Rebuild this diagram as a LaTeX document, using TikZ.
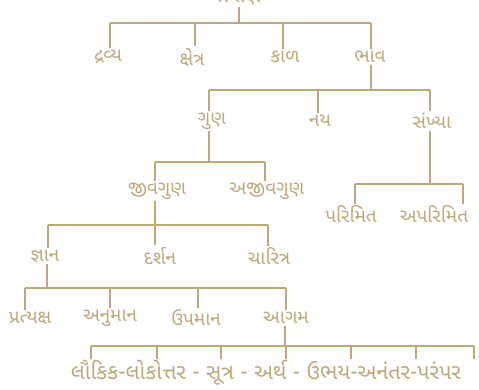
\documentclass[tikz,border=0pt]{standalone}
\usepackage{fontspec}
\newfontfamily\gujfont[Script=Gujarati]{Noto Sans Gujarati UI}
\usepackage{tikz}
\usetikzlibrary{positioning}
\usepackage{xcolor}
\definecolor{tan}{HTML}{BFA878}

\begin{document}
\begin{tikzpicture}[
    x = 1pt,
    y = -1pt,
    line width = 1.8pt,
    word/.style={text=tan, font=\gujfont\fontsize{19}{21}\selectfont, inner sep=1pt},
    tail/.style={word, font=\gujfont\fontsize{21.5}{23}\selectfont},
    link/.style={draw=tan}
]
    \useasboundingbox (0,0) rectangle (479,389);
    \clip (0,0) rectangle (479,389);

    % words
    \node[word] (pramana) at (239,-2) {પ્રમાણ};
    \node[word] (dravya)  at (108,57) {દ્રવ્ય};
    \node[word] (kshetra) at (192,57) {ક્ષેત્ર};
    \node[word] (kal)     at (285,57) {કાળ};
    \node[word] (bhav)    at (370,57) {ભાવ};
    \node[word] (gun)     at (212,121) {ગુણ};
    \node[word] (nay)     at (320,121) {નય};
    \node[word] (sankhya) at (432,121) {સંખ્યા};
    \node[word] (jivgun)  at (157,191) {જીવગુણ};
    \node[word] (ajivgun) at (267,191) {અજીવગુણ};
    \node[word] (parimit) at (351,214) {પરિમિત};
    \node[word] (aparimit) at (434,214) {અપરિમિત};
    \node[word] (jnan)    at (45,256) {જ્ઞાન};
    \node[word] (darshan) at (160,256) {દર્શન};
    \node[word] (charitra) at (269,256) {ચારિત્ર};
    \node[word] (pratyaksh) at (30,318) {પ્રત્યક્ષ};
    \node[word] (anuman)  at (110,318) {અનુમાન};
    \node[word] (upaman)  at (196,318) {ઉપમાન};
    \node[word] (agam)    at (286,318) {આગમ};
    \node[tail] (agambhed) at (266,373) {લૌકિક-લોકોત્તર - સૂત્ર - અર્થ - ઉભય-અનંતર-પરંપર};

    % bars
    \coordinate (r1) at (239,23);
    \coordinate (r2) at (371,90);
    \coordinate (r3) at (209,162);
    \coordinate (r4) at (430,184);
    \coordinate (r5) at (155,225);
    \coordinate (r6) at (47,288);
    \coordinate (r7) at (285,346);

    \draw[link] (pramana.south) -- (r1);
    \draw[link] (110,23) -- (371,23);
    \foreach \x/\n in {110/dravya, 195/kshetra, 283/kal, 371/bhav}
        \draw[link] (\x,23) -- (\x,23 |- \n.north);

    \draw[link] (bhav.south -| r2) -- (r2);
    \draw[link] (209,90) -- (430,90);
    \foreach \x/\n in {209/gun, 318/nay, 430/sankhya}
        \draw[link] (\x,90) -- (\x,90 |- \n.north);

    \draw[link] (gun.south -| r3) -- (r3);
    \draw[link] (155,162) -- (265,162);
    \foreach \x/\n in {155/jivgun, 265/ajivgun}
        \draw[link] (\x,162) -- (\x,162 |- \n.north);

    \draw[link] (sankhya.south -| r4) -- (r4);
    \draw[link] (355,184) -- (463,184);
    \foreach \x/\n in {355/parimit, 463/aparimit}
        \draw[link] (\x,184) -- (\x,184 |- \n.north);

    \draw[link] (jivgun.south -| r5) -- (r5);
    \draw[link] (48,225) -- (268,225);
    \foreach \x/\n in {48/jnan, 155/darshan, 268/charitra}
        \draw[link] (\x,225) -- (\x,225 |- \n.north);

    \draw[link] (jnan.south -| r6) -- (r6);
    \draw[link] (25,288) -- (286,288);
    \foreach \x/\n in {25/pratyaksh, 110/anuman, 198/upaman, 286/agam}
        \draw[link] (\x,288) -- (\x,288 |- \n.north);

    \draw[link] (agam.south -| r7) -- (r7);
    \draw[link] (91,346) -- (474,346);
    \foreach \x in {91,157,221,286,351,416,474}
        \draw[link] (\x,346) -- (\x,346 |- agambhed.north);
\end{tikzpicture}
\end{document}
